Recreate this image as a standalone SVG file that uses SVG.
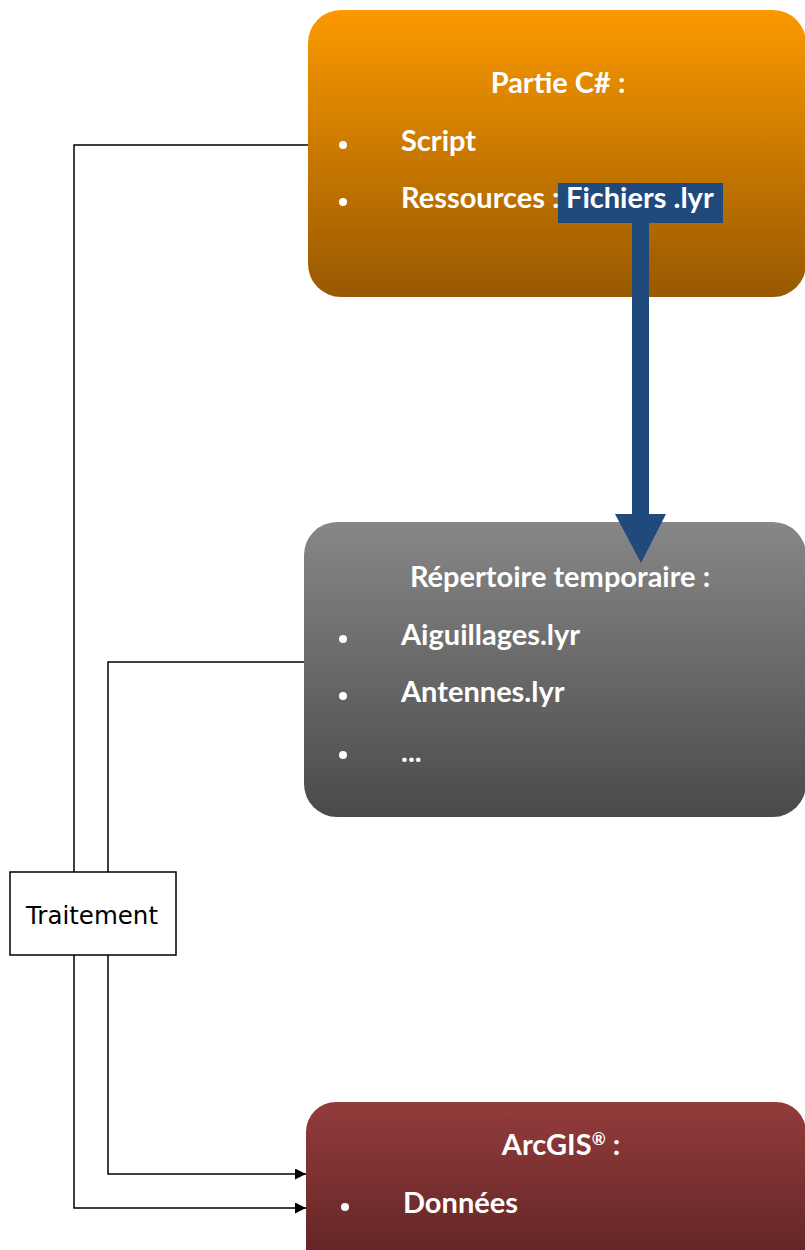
<svg xmlns="http://www.w3.org/2000/svg" width="805" height="1250" viewBox="0 0 805 1250">
<style>
.t{font-family:Lato,"Liberation Sans",sans-serif;font-weight:bold;font-size:29px;fill:#fff}
.c{text-anchor:middle}
.b{fill:#fff}
.ln{fill:none;stroke:#000;stroke-width:1.5}
</style>
<defs>
<linearGradient id="gO" x1="0" y1="0" x2="0" y2="1"><stop offset="0" stop-color="#FB9900"/><stop offset="1" stop-color="#985900"/></linearGradient>
<linearGradient id="gG" x1="0" y1="0" x2="0" y2="1"><stop offset="0" stop-color="#878787"/><stop offset="1" stop-color="#4A4A4A"/></linearGradient>
<linearGradient id="gR" x1="0" y1="0" x2="0" y2="1"><stop offset="0" stop-color="#933B3B"/><stop offset="1" stop-color="#551F1F"/></linearGradient>
<marker id="ah" viewBox="0 0 10 10" refX="10" refY="5" markerWidth="11" markerHeight="11" markerUnits="userSpaceOnUse" orient="auto"><path d="M0,0 L10,5 L0,10 z" fill="#000"/></marker>
</defs>
<g id="connectors">
<polyline class="ln" points="343,145 74,145 74,872"/>
<polyline class="ln" points="304,662 108,662 108,872"/>
<polyline class="ln" points="108,955 108,1174 306,1174" marker-end="url(#ah)"/>
<polyline class="ln" points="74,955 74,1208 306,1208" marker-end="url(#ah)"/>
</g>
<g id="csharp">
<rect x="308" y="10" width="498" height="287" rx="33" fill="url(#gO)"/>
<text class="t c" x="558" y="93">Partie C# :</text>
<circle class="b" cx="343" cy="145" r="4"/>
<text class="t" x="401" y="151">Script</text>
<circle class="b" cx="343" cy="202" r="4"/>
<text class="t" x="401" y="208">Ressources :</text>
</g>
<g id="temp">
<rect x="304" y="522" width="502" height="295" rx="33" fill="url(#gG)"/>
<text class="t c" x="560" y="587">Répertoire temporaire :</text>
<circle class="b" cx="343" cy="639" r="4"/>
<text class="t" x="401" y="645">Aiguillages.lyr</text>
<circle class="b" cx="343" cy="696" r="4"/>
<text class="t" x="401" y="702">Antennes.lyr</text>
<circle class="b" cx="343" cy="755" r="4"/>
<text class="t" x="401" y="762">...</text>
</g>
<g id="arcgis">
<rect x="306" y="1102" width="500" height="200" rx="30" fill="url(#gR)"/>
<text class="t c" x="561" y="1155">ArcGIS<tspan font-size="17" dy="-10">®</tspan><tspan dy="10"> :</tspan></text>
<circle class="b" cx="345" cy="1207" r="4"/>
<text class="t" x="403" y="1213">Données</text>
</g>
<g id="fichiers">
<rect x="558" y="183" width="165" height="40" fill="#214A7C"/>
<rect x="632" y="222" width="17" height="293" fill="#214A7C"/>
<polygon points="615,514 666,514 641,563" fill="#214A7C"/>
<text class="t" x="566" y="208">Fichiers .lyr</text>
</g>
<g id="traitement">
<rect x="10" y="872" width="166" height="83" fill="#fff" stroke="#000" stroke-width="1.5"/>
<text x="92" y="924" text-anchor="middle" font-family="DejaVu Sans,sans-serif" font-size="24.5">Traitement</text>
</g>
</svg>
